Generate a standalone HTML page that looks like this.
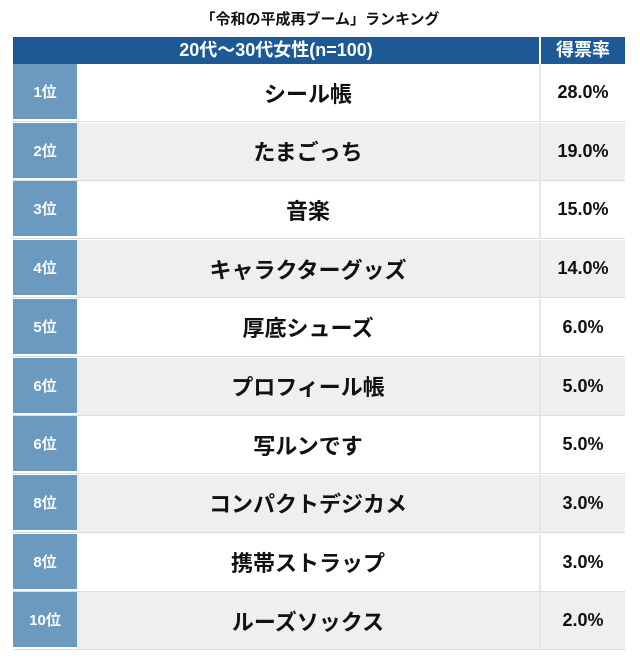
<!DOCTYPE html>
<html><head><meta charset="utf-8"><style>
body{margin:0;width:640px;height:668px;background:#fff;font-family:"Liberation Sans","Noto Sans CJK JP",sans-serif;position:relative;overflow:hidden;}
.t{position:absolute;top:8px;left:0;width:640px;text-align:center;font-weight:bold;font-size:15px;color:#111;}
.h{position:absolute;top:37px;height:27px;line-height:27px;background:#1c5995;color:#fff;font-size:18px;font-weight:bold;text-align:center;}
.row{position:absolute;left:13px;width:612px;height:58px;border-bottom:1px solid #ddd;box-sizing:border-box;}
.row div{position:absolute;top:0;height:100%;display:flex;align-items:center;justify-content:center;font-weight:bold;}
.k{left:0;width:64px;background:#6a9ac0;color:#fff;font-size:15px;border-bottom:2px solid #fff;box-sizing:border-box;}
.n{left:64px;width:462px;font-size:22px;color:#111;}
.p{left:526px;width:86px;font-size:18px;color:#111;border-left:2px solid #e6e6e6;box-sizing:border-box;}
.g .n,.g .p{background:#efefef;}
</style></head><body>
<div class="t">「令和の平成再ブーム」ランキング</div>
<div class="h" style="left:13px;width:526px">20代〜30代女性(n=100)</div>
<div class="h" style="left:541px;width:84px">得票率</div>
<div class="row" style="top:64px"><div class="k">1位</div><div class="n">シール帳</div><div class="p">28.0%</div></div>
<div class="row g" style="top:122.7px"><div class="k">2位</div><div class="n">たまごっち</div><div class="p">19.0%</div></div>
<div class="row" style="top:181.4px"><div class="k">3位</div><div class="n">音楽</div><div class="p">15.0%</div></div>
<div class="row g" style="top:240.1px"><div class="k">4位</div><div class="n">キャラクターグッズ</div><div class="p">14.0%</div></div>
<div class="row" style="top:298.8px"><div class="k">5位</div><div class="n">厚底シューズ</div><div class="p">6.0%</div></div>
<div class="row g" style="top:357.5px"><div class="k">6位</div><div class="n">プロフィール帳</div><div class="p">5.0%</div></div>
<div class="row" style="top:416.2px"><div class="k">6位</div><div class="n">写ルンです</div><div class="p">5.0%</div></div>
<div class="row g" style="top:474.9px"><div class="k">8位</div><div class="n">コンパクトデジカメ</div><div class="p">3.0%</div></div>
<div class="row" style="top:533.6px"><div class="k">8位</div><div class="n">携帯ストラップ</div><div class="p">3.0%</div></div>
<div class="row g" style="top:592.3px"><div class="k">10位</div><div class="n">ルーズソックス</div><div class="p">2.0%</div></div>
</body></html>
